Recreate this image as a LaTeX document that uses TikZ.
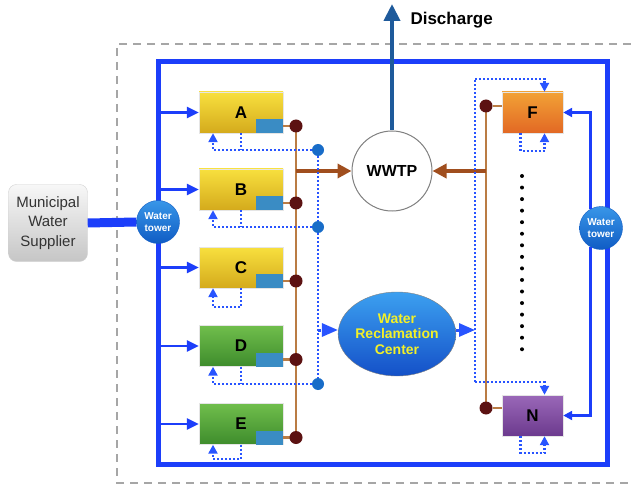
\documentclass[tikz,border=0pt]{standalone}
\usepackage{fontspec}
\setmainfont{Liberation Sans}
\usetikzlibrary{arrows.meta,positioning,shapes.geometric}

\definecolor{pipeblue}{RGB}{28,62,250}
\definecolor{dotblue}{RGB}{40,84,255}
\definecolor{jointblue}{RGB}{24,108,200}
\definecolor{sewer}{RGB}{186,124,68}
\definecolor{sewerarrow}{RGB}{160,78,30}
\definecolor{jointred}{RGB}{92,18,18}
\definecolor{meter}{RGB}{58,140,196}
\definecolor{outblue}{RGB}{30,90,155}
\definecolor{wrcyellow}{RGB}{242,240,40}
\definecolor{ytop}{RGB}{248,224,62}
\definecolor{ybot}{RGB}{212,170,28}
\definecolor{gtop}{RGB}{112,190,76}
\definecolor{gbot}{RGB}{62,140,44}
\definecolor{otop}{RGB}{242,162,54}
\definecolor{obot}{RGB}{226,104,36}
\definecolor{ptop}{RGB}{154,104,184}
\definecolor{pbot}{RGB}{108,58,142}
\definecolor{towertop}{RGB}{56,150,232}
\definecolor{towerbot}{RGB}{16,92,196}
\definecolor{wrctop}{RGB}{60,160,240}
\definecolor{wrcbot}{RGB}{20,80,200}

\begin{document}
\begin{tikzpicture}[x=1pt, y=-1pt,
  unit/.style={rectangle, draw=black!10, minimum width=84pt, minimum height=41pt, inner sep=0pt, font=\fontsize{17}{17}\selectfont\bfseries},
  yunit/.style={unit, top color=ytop, bottom color=ybot},
  gunit/.style={unit, top color=gtop, bottom color=gbot},
  meterbox/.style={rectangle, fill=meter, minimum width=27pt, minimum height=14pt, inner sep=0pt, anchor=south east},
  bdot/.style={circle, fill=jointred, minimum size=13pt, inner sep=0pt},
  wdot/.style={circle, fill=jointblue, minimum size=12pt, inner sep=0pt},
  tower/.style={circle, minimum size=43pt, inner sep=0pt, top color=towertop, bottom color=towerbot, draw=towerbot, text=white, align=center, font=\fontsize{10}{11.5}\selectfont\bfseries},
  feed/.style={draw=pipeblue, line width=2.5pt, -{Triangle[length=12pt,width=11pt]}},
  feedR/.style={draw=pipeblue, line width=3pt, -{Triangle[length=9pt,width=9pt]}},
  drain/.style={draw=sewer, line width=2.5pt},
  drainarrow/.style={draw=sewerarrow, line width=3.5pt, -{Triangle[length=14pt,width=14pt]}},
  recirc/.style={draw=dotblue, line width=2.3pt, dash pattern=on 2pt off 2pt},
  recircarrow/.style={recirc, -{Triangle[length=9pt,width=9pt]}},
  reuse/.style={draw=dotblue, line width=3pt, dash pattern=on 3pt off 3pt, -{Triangle[length=16pt,width=13pt]}}
]
\useasboundingbox (0,0) rectangle (631,486);

% Boundaries
\draw[gray!70, line width=1.5pt, dash pattern=on 8pt off 6pt] (631,44) -- (117,44) -- (117,483) -- (631,483);
\draw[pipeblue, line width=5pt] (158,62) rectangle (607,464);

% Supply
\node[rectangle, rounded corners=8pt, minimum width=79pt, minimum height=77pt, top color=gray!6, bottom color=gray!45, draw=gray!35, text=black!80, align=center, font=\fontsize{15}{19.5}\selectfont] (mws) at (48,223) {Municipal\\Water\\Supplier};
\node[tower] (lwt) at (158,222) {Water\\tower};
\coordinate (rwtc) at (601,228);
\draw[pipeblue, line width=9pt] (mws.east) -- (lwt.west);

% Users on the left
\node[yunit] (A) at (241,112.5) {A};
\node[yunit] (B) at (241,189.5) {B};
\node[yunit] (C) at (241,267.5) {C};
\node[gunit] (D) at (241,346) {D};
\node[gunit] (E) at (241,424) {E};
\node[meterbox] (Am) at (A.south east) {};
\node[meterbox] (Bm) at (B.south east) {};
\node[meterbox] (Cm) at (C.south east) {};
\node[meterbox] (Dm) at (D.south east) {};
\node[meterbox] (Em) at (E.south east) {};

% Users on the right
\node[unit, minimum width=61pt, top color=otop, bottom color=obot] (F) at (532.5,112.5) {F};
\node[unit, minimum width=61pt, top color=ptop, bottom color=pbot] (N) at (532.5,415.5) {N};
\foreach \k in {0,...,15} \fill (522,176+11.55*\k) circle (2pt);

% Treatment
\node[circle, draw=gray, line width=1pt, fill=white, minimum size=80pt, inner sep=0pt, font=\fontsize{16}{16}\selectfont\bfseries] (wwtp) at (392,171) {WWTP};
\node[ellipse, draw=black!50, top color=wrctop, bottom color=wrcbot, minimum width=96pt, minimum height=84pt, inner sep=0pt, text=wrcyellow, align=center, font=\fontsize{14}{15.5}\selectfont\bfseries] (wrc) at (397,334) {Water\\Reclamation\\Center};
\coordinate (out) at (392,4);
\node[anchor=west, font=\fontsize{17}{17}\selectfont\bfseries] (dlabel) at (407,20) {Discharge};
\draw[outblue, line width=4pt, -{Triangle[length=17pt,width=16pt]}] (wwtp) -- (out);

% Sewer collection
\draw[drain] (Am.east) -- (296,126);
\draw[drain] (Bm.east) -- (296,203);
\draw[drain] (Cm.east) -- (296,281);
\draw[drain] (Dm.east) -- (296,359.5);
\draw[drain] (Em.east) -- (296,437.5);
\draw[drain] (296,126) -- (296,437.5);
\node[bdot] (Ad) at (296,126) {};
\node[bdot] (Bd) at (296,203) {};
\node[bdot] (Cd) at (296,281) {};
\node[bdot] (Dd) at (296,359.5) {};
\node[bdot] (Ed) at (296,437.5) {};
\draw[drain] (486,106) -- (486,408);
\node[bdot] (Fd) at (486,106) {};
\node[bdot] (Nd) at (486,408) {};
\draw[drain] (Fd) -- (Fd -| F.west);
\draw[drain] (Nd) -- (Nd -| N.west);
\draw[drainarrow] (wwtp.west -| Ad) -- (wwtp.west);
\draw[drainarrow] (wwtp.east -| Fd) -- (wwtp.east);

% Supply lines
\draw[feed] (A.west -| lwt) -- (A.west);
\draw[feed] (B.west -| lwt) -- (B.west);
\draw[feed] (C.west -| lwt) -- (C.west);
\draw[feed] (D.west -| lwt) -- (D.west);
\draw[feed] (E.west -| lwt) -- (E.west);
\node[tower] (rwt) at (rwtc) {Water\\tower};
\draw[feedR] (rwt.118) |- (F.east);
\draw[feedR] (rwt.242) |- (N.east);

% Recirculation and reuse
\node[wdot] (Aw) at (318,150) {};
\node[wdot] (Bw) at (318,227) {};
\node[wdot] (Dw) at (318,384) {};
\draw[recirc] (Aw) -- (Bw);
\draw[recirc] (Bw) -- (Dw);
\draw[recirc] (A.south) -- (A.south |- Aw);
\draw[recirc] (B.south) -- (B.south |- Bw);
\draw[recirc] (D.south) -- (D.south |- Dw);
\draw[recircarrow] (Aw) -| ([xshift=-28pt]A.south);
\draw[recircarrow] (Bw) -| ([xshift=-28pt]B.south);
\draw[recircarrow] (Dw) -| ([xshift=-28pt]D.south);
\draw[recircarrow] (C.south) -- ++(0,19) -| ([xshift=-28pt]C.south);
\draw[recircarrow] (E.south) -- ++(0,14) -| ([xshift=-28pt]E.south);
\coordinate (rt) at (475,79);
\coordinate (rb) at (475,382);
\draw[recirc] (rb) -- (rt);
\draw[recircarrow] (rt) -| ([xshift=12pt]F.north);
\draw[recircarrow] (rb) -| ([xshift=12pt]N.north);
\draw[recircarrow] ([xshift=-12pt]F.south) -- ++(0,18) -| ([xshift=12pt]F.south);
\draw[recircarrow] ([xshift=-12pt]N.south) -- ++(0,17) -| ([xshift=12pt]N.south);
\coordinate (wj) at (318,330);
\draw[reuse] (wj) -- (wj -| wrc.west);
\draw[reuse] (wj -| wrc.east) -- (wj -| rt);
\end{tikzpicture}
\end{document}
